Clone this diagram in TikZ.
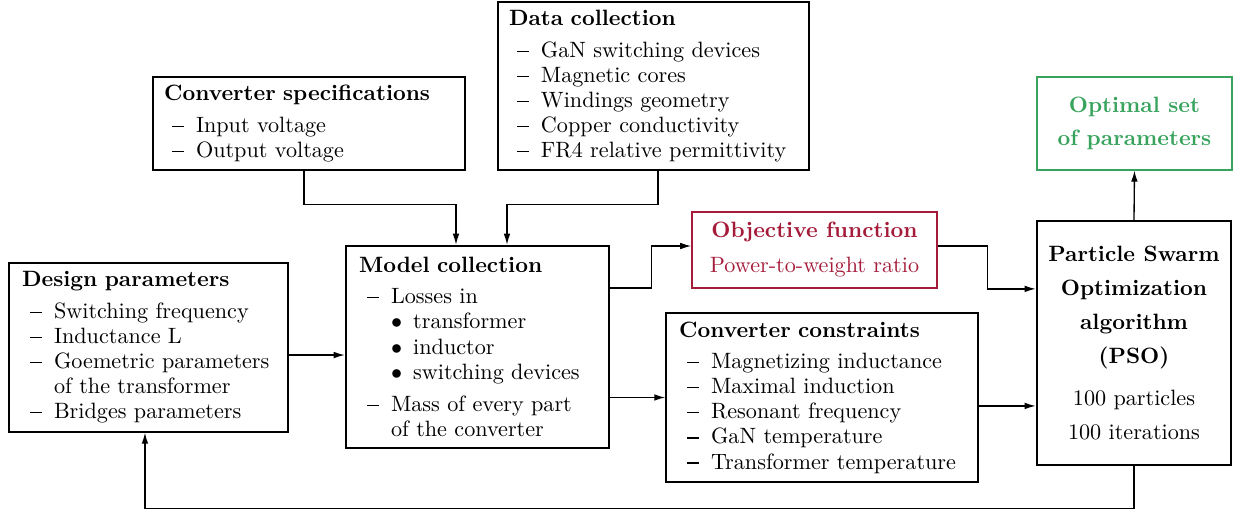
\documentclass[tikz,border=0pt]{standalone}
\usepackage{amsmath, amssymb}
\usepackage{xcolor}
\usepackage{tikz}
\usetikzlibrary{arrows.meta}

\definecolor{objred}{RGB}{165,28,58}
\definecolor{optgreen}{RGB}{56,163,93}
\newcommand{\itm}{\hspace*{3.6pt}\makebox[10.8pt][l]{\rule[2.45pt]{5.2pt}{0.55pt}}}
\newcommand{\cont}{\hspace*{14.4pt}}
\newcommand{\bul}{\hspace*{14.4pt}\makebox[10pt][l]{$\bullet$}}

\begin{document}
\begin{tikzpicture}[
    x=0.451pt, y=-0.451pt,
    box/.style={
        draw, line width=0.6pt,
        align=left, inner sep=0pt,
        font=\fontsize{10}{11.3}\selectfont
    },
    bigbox/.style={box, line width=1.1pt},
    arr/.style={-{Latex[length=5pt, width=3pt]}, line width=0.6pt}
]
\useasboundingbox (0,0) rectangle (1239,512);

\node[box, inner xsep=5pt, text width=130.7pt, minimum height=41.9pt] (spec) at (309,123.5)
    {\textbf{Converter specifications}\\[3pt]
     \itm Input voltage\\
     \itm Output voltage};
\node[box, inner xsep=5pt, text width=130.3pt, minimum height=75.8pt] (data) at (653.5,86)
    {\textbf{Data collection}\\[3pt]
     \itm GaN switching devices\\
     \itm Magnetic cores\\
     \itm Windings geometry\\
     \itm Copper conductivity\\
     \itm FR4 relative permittivity};
\node[box, draw=optgreen, text=optgreen, align=center,
      minimum width=87.9pt, minimum height=41.9pt] (opt) at (1134.5,123.5)
    {\textbf{Optimal set}\\[3.6pt]\textbf{of parameters}};
\node[box, draw=objred, text=objred, align=center,
      minimum width=110.5pt, minimum height=34.3pt] (obj) at (814.5,250)
    {\textbf{Objective function}\\[4.5pt]Power-to-weight ratio};
\node[box, inner xsep=5.9pt, text width=114pt, minimum height=76.2pt] (design) at (148.5,347.5)
    {\textbf{Design parameters}\\[3pt]
     \itm Switching frequency\\
     \itm Inductance L\\
     \itm Goemetric parameters\\
     \cont of the transformer\\
     \itm Bridges parameters};
\node[bigbox, inner xsep=5.9pt, text width=106.8pt, minimum height=91.1pt] (model) at (477.5,347)
    {\textbf{Model collection}\\[3pt]
     \itm Losses in\\
     \bul transformer\\
     \bul inductor\\
     \bul switching devices\\[3.5pt]
     \itm Mass of every part\\
     \cont of the converter};
\node[box, inner xsep=5.9pt, text width=128.9pt, minimum height=76.2pt] (cons) at (822,397.5)
    {\textbf{Converter constraints}\\[3pt]
     \itm Magnetizing inductance\\
     \itm Maximal induction\\
     \itm Resonant frequency\\
     \itm GaN temperature\\
     \itm Transformer temperature};
\node[bigbox, align=center, minimum width=87.5pt, minimum height=110pt] (pso) at (1134,343)
    {\textbf{Particle Swarm}\\[4pt]
     \textbf{Optimization}\\[4pt]
     \textbf{algorithm}\\[4pt]
     \textbf{(PSO)}\\[7.6pt]
     100 particles\\[4pt]
     100 iterations};

\draw[arr] ([xshift=-2.3pt]spec.south) -- ++(0,34) -| ([xshift=-9.7pt]model.north);
\draw[arr] ([xshift=2pt]data.south) -- ++(0,34) -| ([xshift=13.3pt]model.north);
\draw[arr] ([yshift=-3.4pt]design.east) -- ([yshift=-3.4pt]design.east -| model.west);
\draw[arr] ([yshift=26.6pt]model.east) -- ++(41,0) |- ([yshift=1.8pt]obj.west);
\draw[arr] (cons.west -| model.east) -- (cons.west);
\draw[arr] ([yshift=1.8pt]obj.east) -- ++(50,0) |- ([yshift=24.4pt]pso.west);
\draw[arr] ([yshift=-3.8pt]cons.east) -- ([yshift=-3.8pt]cons.east -| pso.west);
\draw[arr] (pso.north) -- (opt.south);
\draw[arr] (pso.south) -- ++(0,42) -| ([xshift=-1.6pt]design.south);
\end{tikzpicture}
\end{document}
